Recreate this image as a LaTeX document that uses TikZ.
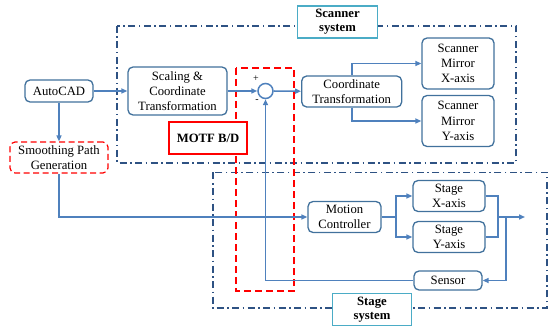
\documentclass[tikz,border=0pt]{standalone}
\usepackage{fontspec}
\setmainfont{Liberation Serif}
\usetikzlibrary{arrows.meta,calc}
\definecolor{boxblue}{HTML}{41719C}
\definecolor{lineblue}{HTML}{4F81BD}
\definecolor{sysblue}{HTML}{2E5283}
\definecolor{labcyan}{HTML}{4BACC6}
\begin{document}
\begin{tikzpicture}[x=1pt,y=-1pt,
  every node/.style={font=\fontsize{12.7}{15.2}\selectfont, align=center, inner sep=0pt},
  blk/.style={draw=boxblue, line width=1.3pt, rounded corners=5pt, fill=white},
  redbox/.style={draw=red, line width=1.2pt, dashed, dash pattern=on 6pt off 3.5pt, rounded corners=5pt, fill=white},
  motfbox/.style={draw=red, line width=1.3pt, fill=white, font=\fontsize{12.7}{15.2}\selectfont\bfseries},
  syslabel/.style={draw=labcyan, line width=1.3pt, fill=white, font=\fontsize{12.7}{14}\selectfont\bfseries},
  sysbox/.style={draw=sysblue, line width=1.8pt, dash pattern=on 7pt off 3.5pt on 1.5pt off 3.5pt},
  motfdash/.style={draw=red, line width=1.6pt, dash pattern=on 7pt off 4pt},
  conn/.style={draw=lineblue, line width=1.6pt, -{Triangle[length=6pt,width=5pt]}},
  plain/.style={draw=lineblue, line width=1.6pt}
]
\useasboundingbox (0,0) rectangle (549,326);
% system frames
\draw[sysbox] (117,26) rectangle (516,163);
\draw[sysbox] (212.7,172.5) rectangle (547,308);
\draw[motfdash] (236,68) rectangle (294,291);

% nodes
\node[blk, minimum width=68pt, minimum height=22pt] (auto) at (59,91) {AutoCAD};
\node[blk, minimum width=99pt, minimum height=48pt] (scal) at (177.5,91) {Scaling \&\\Coordinate\\Transformation};
\node[redbox, minimum width=98pt, minimum height=31pt] (smooth) at (59,157.5) {Smoothing Path\\Generation};
\node[motfbox, minimum width=78pt, minimum height=32pt] (motf) at (208,138) {MOTF B/D};
\node[draw=lineblue, line width=1.5pt, circle, fill=white, minimum size=15pt] (sum) at (265.5,91) {};
\node[font=\fontsize{10}{10}\selectfont] (plus) at (256,79) {+};
\node[font=\fontsize{10}{10}\selectfont] (minus) at (257,101) {-};
\node[blk, minimum width=100pt, minimum height=31pt] (coord) at (351.7,91.5) {Coordinate\\Transformation};
\node[blk, minimum width=72pt, minimum height=51pt] (smx) at (458,63.5) {Scanner\\Mirror\\ X-axis};
\node[blk, minimum width=72pt, minimum height=51pt] (smy) at (458,121) {Scanner\\Mirror\\ Y-axis};
\node[syslabel, minimum width=80pt, minimum height=32pt] (scanlab) at (337.5,22) {Scanner\\system};
\node[blk, minimum width=73pt, minimum height=31pt] (mc) at (344.5,217) {Motion\\Controller};
\node[blk, minimum width=72pt, minimum height=31pt] (sx) at (449,196) {Stage\\X-axis};
\node[blk, minimum width=72pt, minimum height=31pt] (sy) at (449,237) {Stage\\Y-axis};
\node[blk, minimum width=68pt, minimum height=19pt] (sensor) at (448,280.5) {Sensor};
\node[syslabel, minimum width=79pt, minimum height=32pt] (stagelab) at (372,309.5) {Stage\\system};

% coordinates
\coordinate (br1) at (396,217);
\coordinate (join) at (498,217);
\coordinate (tap) at (506,217);
\coordinate (out) at (525,217);

% connectors
\draw[conn] (auto) -- (scal);
\draw[conn] (auto) -- (smooth);
\draw[conn] (scal) -- (sum);
\draw[conn] (sum) -- (coord);
\draw[conn] (coord.north) |- (smx.west);
\draw[conn] (coord.south) |- (smy.west);
\draw[conn] (smooth.south) |- (mc.west);
\draw[plain] (mc.east) -- (br1);
\draw[conn] (br1) |- (sx.west);
\draw[conn] (br1) |- (sy.west);
\draw[plain] (sx.east) -| (join);
\draw[plain] (sy.east) -| (join);
\draw[conn] (join) -- (out);
\draw[conn] (tap) |- (sensor.east);
\draw[conn] (sensor.west) -| (sum.south);
\end{tikzpicture}
\end{document}
